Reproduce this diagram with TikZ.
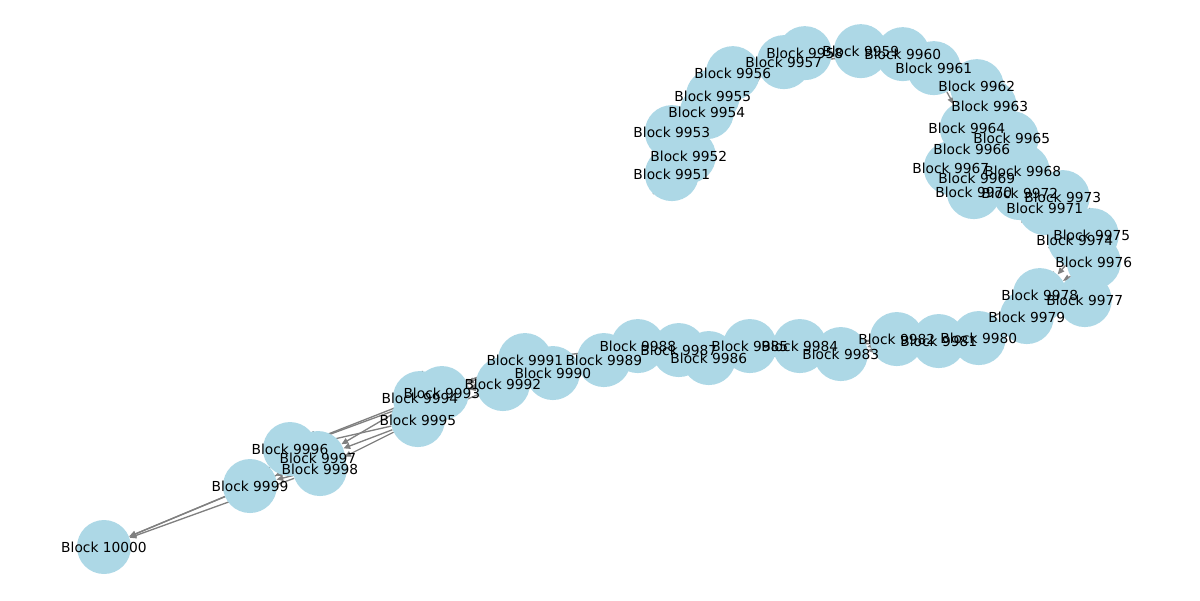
\documentclass[tikz,border=0pt]{standalone}
\usepackage{fontspec}
\setmainfont{DejaVu Sans}
\usetikzlibrary{arrows.meta}
\definecolor{nodeblue}{HTML}{ADD8E6}
\definecolor{edgegray}{HTML}{808080}
\pgfdeclarelayer{bg}
\pgfsetlayers{bg,main}
\begin{document}
\begin{tikzpicture}[
  blk/.style={circle, fill=nodeblue, draw=none, minimum size=1.35cm, inner sep=0pt},
  lbl/.style={inner sep=0pt, font=\fontsize{9.8}{11}\selectfont},
  link/.style={draw=edgegray, line width=0.95pt, -{Triangle[length=4.8pt,width=4.2pt]}}
]
\useasboundingbox (0,0) rectangle (30,15);
\foreach \i/\x/\y in {
 9951/672/174, 9952/689/156, 9953/672/132, 9954/707/112, 9955/713/96,
 9956/733/73, 9957/784/62, 9958/805/53, 9959/861/51, 9960/903/54,
 9961/934/68, 9962/977/86, 9963/990/106, 9964/967/128, 9965/1012/138,
 9966/972/149, 9967/951/168, 9968/1023/171, 9969/977/178, 9970/974/192,
 9971/1045/208, 9972/1020/193, 9973/1063/197, 9974/1075/240, 9975/1092/235,
 9976/1094/262, 9977/1085/300, 9978/1040/295, 9979/1027/317, 9980/979/338,
 9981/939/341, 9982/897/339, 9983/841/354, 9984/800/346, 9985/750/346,
 9986/709/358, 9987/679/350, 9988/638/346, 9989/604/360, 9990/553/373,
 9991/525/360, 9992/503/384, 9993/442/393, 9994/420/398, 9995/418/420,
 9996/290/449, 9997/318/458, 9998/320/469, 9999/250/486, 10000/104/547}
  \node[blk] (n\i) at ({\x*0.025},{(600-\y)*0.025}) {};
\begin{pgfonlayer}{bg}
\foreach \i in {9951,...,9999}{
  \foreach \k in {1,2,3}{
    \pgfmathtruncatemacro{\j}{\i+\k}
    \ifnum\j<10001
      \draw[link] (n\i) -- (n\j);
    \fi
  }
}
\end{pgfonlayer}
\foreach \i in {9951,...,10000}
  \node[lbl] (t\i) at (n\i) {Block \i};
\end{tikzpicture}
\end{document}
